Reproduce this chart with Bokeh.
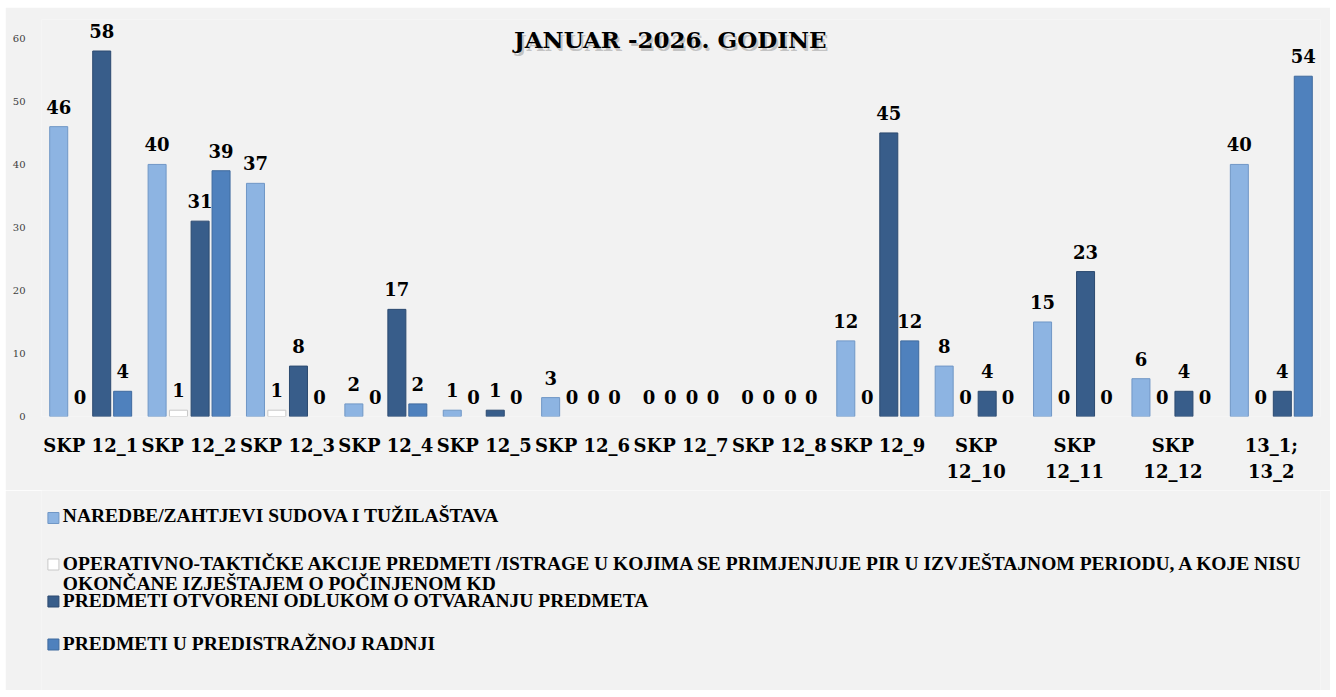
from bokeh.plotting import figure
from bokeh.models import ColumnDataSource, FactorRange, Range1d, Label
from bokeh.transform import dodge
from bokeh.layouts import column
from bokeh.core.properties import value
from bokeh.embed import file_html
from bokeh.resources import INLINE

# ---------------- data ----------------
categories = ["SKP 12_1", "SKP 12_2", "SKP 12_3", "SKP 12_4", "SKP 12_5",
              "SKP 12_6", "SKP 12_7", "SKP 12_8", "SKP 12_9",
              "SKP\n12_10", "SKP\n12_11", "SKP\n12_12", "13_1;\n13_2"]
naredbe = [46, 40, 37, 2, 1, 3, 0, 0, 12, 8, 15, 6, 40]
operativno = [0, 1, 1, 0, 0, 0, 0, 0, 0, 0, 0, 0, 0]
otvoreni = [58, 31, 8, 17, 1, 0, 0, 0, 45, 4, 23, 4, 4]
predistrazne = [4, 39, 0, 2, 0, 0, 0, 0, 12, 0, 0, 0, 54]
series_names = [
    "NAREDBE/ZAHTJEVI SUDOVA I TUŽILAŠTAVA",
    "OPERATIVNO-TAKTIČKE AKCIJE PREDMETI /ISTRAGE U KOJIMA SE PRIMJENJUJE PIR U IZVJEŠTAJNOM PERIODU, A KOJE NISU\nOKONČANE IZJEŠTAJEM O POČINJENOM KD",
    "PREDMETI OTVORENI ODLUKOM O OTVARANJU PREDMETA",
    "PREDMETI U PREDISTRAŽNOJ RADNJI",
]
title_text = "JANUAR -2026. GODINE"
y_ticks = [0, 10, 20, 30, 40, 50, 60]

# ---------------- style ----------------
BG = "#F2F2F2"
fill_colors = ["#8DB4E2", "#FFFFFF", "#385D8A", "#4F81BD"]
line_colors = ["#7097C6", "#C8C8C8", "#2C4A70", "#3F6A9E"]
offsets = [-0.325, -0.108, 0.112, 0.325]
bar_w = 0.183
SERIF = value("DejaVu Serif")

W = 1325
MBL, MBR = 36, 10

cols = ["naredbe", "operativno", "otvoreni", "predistrazne"]
data = dict(cat=categories, naredbe=naredbe, operativno=operativno,
            otvoreni=otvoreni, predistrazne=predistrazne)
for c in cols:
    data[c + "_lbl"] = [str(v) for v in data[c]]
    data[c + "_la"] = [1.0 if v > 0 else 0.0 for v in data[c]]
src = ColumnDataSource(data)

p = figure(x_range=FactorRange(factors=categories), y_range=Range1d(0, 63),
           width=W, height=483, output_backend="svg", toolbar_location=None,
           min_border_left=MBL, min_border_right=MBR, min_border_top=12,
           min_border_bottom=74)
p.background_fill_color = BG
p.border_fill_color = BG
p.outline_line_color = None
p.xgrid.grid_line_color = None
p.ygrid.grid_line_color = None

for c, off, fc, lc in zip(cols, offsets, fill_colors, line_colors):
    x = dodge("cat", off, range=p.x_range)
    p.vbar(x=x, top=c, width=bar_w, source=src, fill_color=fc,
           line_color=lc, line_width=1, line_alpha=c + "_la")
    p.text(x=x, y=c, text=c + "_lbl", source=src, text_align="center",
           text_baseline="alphabetic", y_offset=-20, text_font=SERIF,
           text_font_style="bold", text_font_size="18px", text_color="#000000")

# axes
p.yaxis.ticker = y_ticks
p.yaxis.axis_line_color = None
p.yaxis.major_tick_line_color = None
p.yaxis.minor_tick_line_color = None
p.yaxis.major_label_text_font = "DejaVu Serif"
p.yaxis.major_label_text_font_size = "10px"
p.yaxis.major_label_text_color = "#404040"
p.yaxis.major_label_standoff = 10

p.xaxis.axis_line_color = None
p.xaxis.major_tick_line_color = None
p.xaxis.minor_tick_line_color = None
p.xaxis.major_label_text_font = "DejaVu Serif"
p.xaxis.major_label_text_font_style = "bold"
p.xaxis.major_label_text_font_size = "18px"
p.xaxis.major_label_text_color = "#000000"
p.xaxis.major_label_standoff = 12
p.xaxis.major_label_text_line_height = 1.24

# title with soft shadow
shadow = Label(x=6.39, y=59.9, text=title_text, text_align="center",
               text_baseline="middle", x_offset=2, y_offset=-3,
               text_font="DejaVu Serif", text_font_style="bold",
               text_font_size="23px", text_color="#9A9A9A", text_alpha=0.55)
title = Label(x=6.39, y=59.9, text=title_text, text_align="center",
              text_baseline="middle", text_font="DejaVu Serif",
              text_font_style="bold", text_font_size="23px", text_color="#000000")
p.add_layout(shadow)
p.add_layout(title)

# ---------------- legend panel ----------------
# coordinates of this panel are page pixels (x: 41..1330, y: 490..690)
LH = 200
lg = figure(width=W, height=LH, x_range=Range1d(41, 1330), y_range=Range1d(490 + LH, 490),
            output_backend="svg", toolbar_location=None,
            min_border_left=MBL, min_border_right=0, min_border_top=0,
            min_border_bottom=0)
lg.background_fill_color = BG
lg.border_fill_color = BG
lg.outline_line_color = None
lg.axis.visible = False
lg.grid.visible = False

marker_x = [53] * 4
marker_y = [517.5, 564, 601, 644]
text_x = [62.5] * 4
text_top = [504.6, 552.6, 589.6, 632.6]
lsrc = ColumnDataSource(dict(mx=marker_x, my=marker_y, tx=text_x, ty=text_top,
                             name=series_names, fc=fill_colors, lc=line_colors))
lg.scatter(x="mx", y="my", marker="square", size=11, fill_color="fc",
           line_color="lc", source=lsrc)
lg.text(x="tx", y="ty", text="name", source=lsrc, text_align="left",
        text_baseline="top", text_font=value("Liberation Serif"),
        text_font_style="bold", text_font_size="19.5px", text_color="#000000",
        text_line_height=0.95)

layout = column(p, lg, spacing=0, margin=(7, 0, 0, 5))
open("out.html", "w").write(file_html(layout, INLINE))
